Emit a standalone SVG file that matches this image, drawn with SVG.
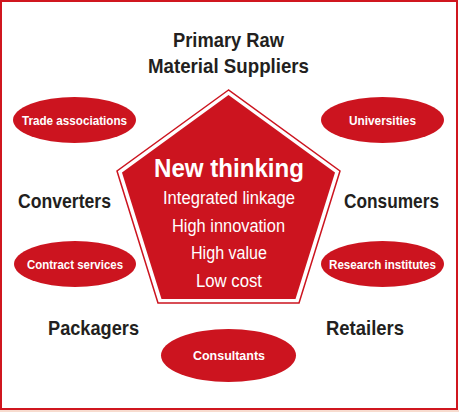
<svg xmlns="http://www.w3.org/2000/svg" width="459" height="412" viewBox="0 0 459 412">
<style>
.lbl{font-family:"Liberation Sans Narrow","Liberation Sans",Arial,sans-serif;font-weight:bold;fill:#231f20;text-anchor:middle}
.big{font-size:21px}
.node{fill:#cc141f}
.nt{font-family:"Liberation Sans Narrow","Liberation Sans",Arial,sans-serif;font-weight:bold;fill:#fff;text-anchor:middle;font-size:13px}
.ct{font-family:"Liberation Sans Narrow","Liberation Sans",Arial,sans-serif;fill:#fff;text-anchor:middle;font-size:17.5px}
</style>
<rect x="0" y="0" width="459" height="412" fill="#fff"/>
<rect x="1" y="1" width="456" height="408" fill="none" stroke="#d0161f" stroke-width="2"/>
<line x1="0" y1="411" x2="459" y2="411" stroke="#f0b9a0" stroke-width="1"/>

<g id="connectors"></g>

<g id="center">
<polygon points="228.5,90 117,171 158,303 299,303 340,171" fill="none" stroke="#cc141f" stroke-width="1.5"/>
<polygon points="228.5,95 122,172.5 161.5,299 295.5,299 335,172.5" fill="#cc141f"/>
<text x="229" y="177" font-family="Liberation Sans Narrow,Liberation Sans,Arial,sans-serif" font-weight="bold" font-size="26" fill="#fff" text-anchor="middle" textLength="150" lengthAdjust="spacingAndGlyphs">New thinking</text>
<text class="ct" x="229" y="204" textLength="132" lengthAdjust="spacingAndGlyphs">Integrated linkage</text>
<text class="ct" x="228.5" y="232" textLength="113" lengthAdjust="spacingAndGlyphs">High innovation</text>
<text class="ct" x="229" y="259" textLength="76" lengthAdjust="spacingAndGlyphs">High value</text>
<text class="ct" x="229" y="287" textLength="66" lengthAdjust="spacingAndGlyphs">Low cost</text>
</g>

<g id="suppliers">
<text class="lbl big" x="228.5" y="47" textLength="111" lengthAdjust="spacingAndGlyphs">Primary Raw</text>
<text class="lbl big" x="228.5" y="73" textLength="161" lengthAdjust="spacingAndGlyphs">Material Suppliers</text>
</g>
<g id="converters"><text class="lbl big" x="64.5" y="208" textLength="93" lengthAdjust="spacingAndGlyphs">Converters</text></g>
<g id="consumers"><text class="lbl big" x="391.5" y="208" textLength="95" lengthAdjust="spacingAndGlyphs">Consumers</text></g>
<g id="packagers"><text class="lbl big" x="93.5" y="335" textLength="91" lengthAdjust="spacingAndGlyphs">Packagers</text></g>
<g id="retailers"><text class="lbl big" x="365" y="335" textLength="78" lengthAdjust="spacingAndGlyphs">Retailers</text></g>

<g id="trade"><ellipse class="node" cx="74.5" cy="120" rx="61.5" ry="23"/><text class="nt" x="74.5" y="124.5" textLength="105" lengthAdjust="spacingAndGlyphs">Trade associations</text></g>
<g id="universities"><ellipse class="node" cx="382.5" cy="120" rx="61.5" ry="23"/><text class="nt" x="382.5" y="124.5" textLength="67" lengthAdjust="spacingAndGlyphs">Universities</text></g>
<g id="contract"><ellipse class="node" cx="75" cy="264" rx="61" ry="23"/><text class="nt" x="75" y="268.5" textLength="96" lengthAdjust="spacingAndGlyphs">Contract services</text></g>
<g id="research"><ellipse class="node" cx="382.5" cy="264" rx="61.5" ry="23"/><text class="nt" x="382.5" y="268.5" textLength="107" lengthAdjust="spacingAndGlyphs">Research institutes</text></g>
<g id="consultants"><ellipse class="node" cx="228.5" cy="355.5" rx="67.5" ry="26.5"/><text class="nt" x="229" y="359.5" textLength="72" lengthAdjust="spacingAndGlyphs">Consultants</text></g>
</svg>
